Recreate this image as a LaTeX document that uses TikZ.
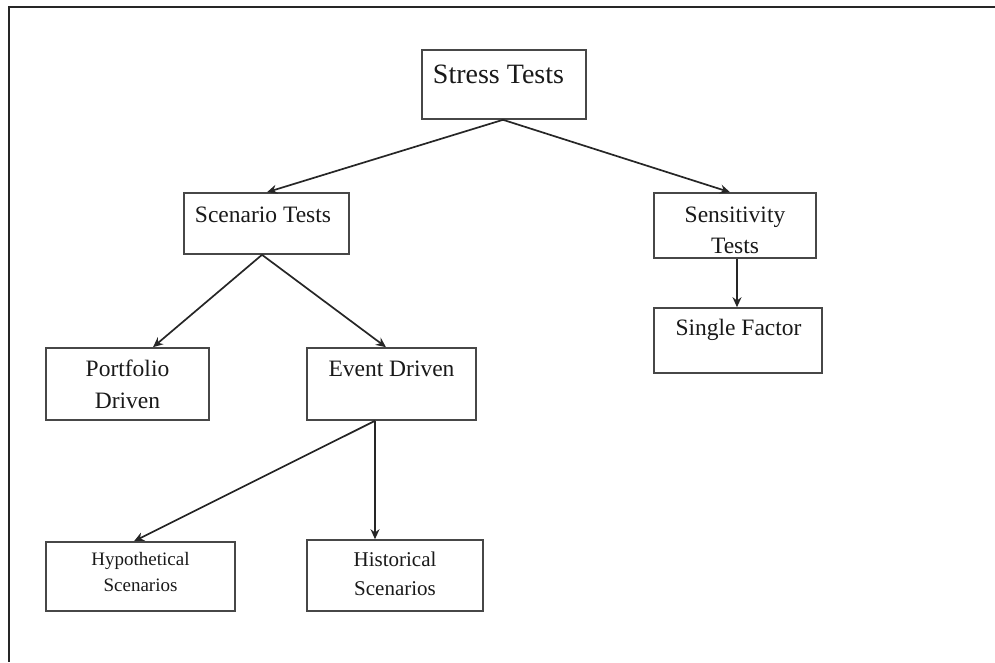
\documentclass[tikz,border=0pt]{standalone}
\usepackage{fontspec}
\setmainfont{Liberation Serif}
\usetikzlibrary{calc,arrows.meta}
\begin{document}
\begin{tikzpicture}[x=1pt,y=-1pt,
  box/.style={draw=black!72, line width=1.6pt, rectangle, inner sep=0pt},
  lbl/.style={inner sep=0pt, align=center, anchor=base, text=black!90},
  arr/.style={draw=black!85, line width=1.7pt, -{Stealth[length=10pt,width=9pt]}}]
\useasboundingbox (0,0) rectangle (995,662);
\draw[line width=1.6pt, black!85] (995,7) -- (9,7) -- (9,662);
% boxes
\node[box, minimum width=164pt, minimum height=69pt] (st) at (504,84.5) {};
\node[box, minimum width=165pt, minimum height=61pt] (sc) at (266.5,223.5) {};
\node[box, minimum width=162pt, minimum height=65pt] (se) at (735,225.5) {};
\node[box, minimum width=168pt, minimum height=65pt] (sf) at (738,340.5) {};
\node[box, minimum width=163pt, minimum height=72pt] (pd) at (127.5,384) {};
\node[box, minimum width=169pt, minimum height=72pt] (ed) at (391.5,384) {};
\node[box, minimum width=189pt, minimum height=69pt] (hy) at (140.5,576.5) {};
\node[box, minimum width=176pt, minimum height=71pt] (hi) at (395,575.5) {};
% texts (base anchor = baseline of last line)
\node[lbl, font=\fontsize{28}{34}\selectfont] (stT) at (498.5,83) {Stress Tests};
\node[lbl, font=\fontsize{23.5}{31}\selectfont] (scT) at (263,222) {Scenario Tests};
\node[lbl, font=\fontsize{23.5}{31}\selectfont] (seT) at (735,253) {Sensitivity\\Tests};
\node[lbl, font=\fontsize{23.5}{31}\selectfont] (sfT) at (738.5,335) {Single Factor};
\node[lbl, font=\fontsize{23.5}{32}\selectfont] (pdT) at (127.5,408) {Portfolio\\Driven};
\node[lbl, font=\fontsize{23.5}{32}\selectfont] (edT) at (391.5,376) {Event Driven};
\node[lbl, font=\fontsize{19}{26}\selectfont] (hyT) at (140.5,591) {Hypothetical\\Scenarios};
\node[lbl, font=\fontsize{21}{29}\selectfont] (hiT) at (395,595) {Historical\\Scenarios};
% connectors
\draw[arr] ([xshift=-1pt]st.south) -- ([xshift=0.5pt]sc.north);
\draw[arr] ([xshift=-1pt]st.south) -- ([xshift=-5pt]se.north);
\draw[arr] ([xshift=-4.5pt]sc.south) -- ([xshift=25.5pt]pd.north);
\draw[arr] ([xshift=-4.5pt]sc.south) -- ([xshift=-5.5pt]ed.north);
\draw[arr] ([xshift=2pt]se.south) -- ([xshift=-1pt]sf.north);
\draw[arr] ([xshift=-16.5pt]ed.south) -- ([xshift=-6.5pt]hy.north);
\draw[arr] ([xshift=-16.5pt]ed.south) -- ([xshift=-20pt]hi.north);
\end{tikzpicture}
\end{document}
